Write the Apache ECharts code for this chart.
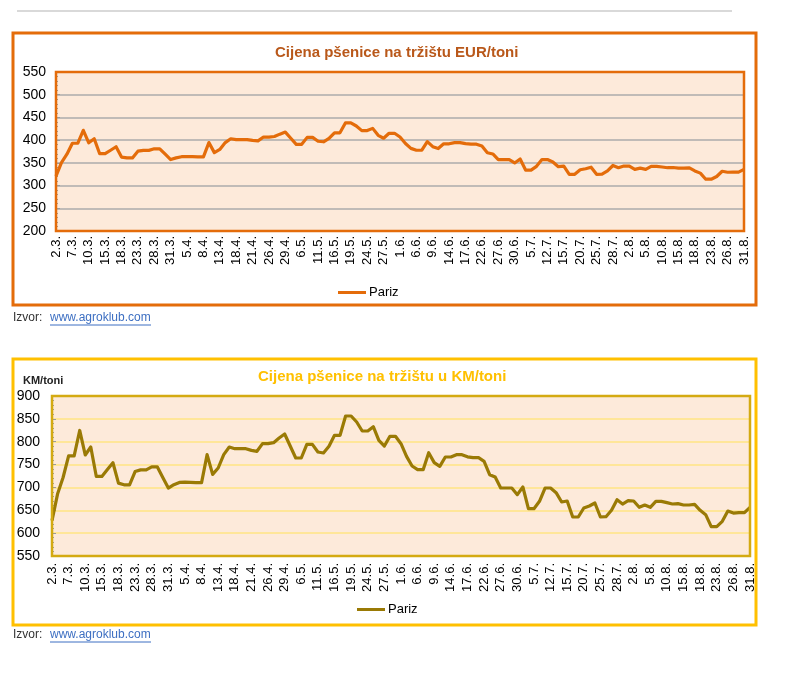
<!DOCTYPE html>
<html>
<head>
<meta charset="utf-8">
<script src="https://cdn.jsdelivr.net/npm/echarts@6/dist/echarts.min.js"></script>
<style>
html,body{margin:0;padding:0;background:#fff;}
#c1{position:absolute;left:0;top:0;width:800px;height:330px;}
#c2{position:absolute;left:0;top:330px;width:800px;height:347px;}
</style>
</head>
<body>
<div id="c1"></div>
<div id="c2"></div>
<script>
const categories = ['2.3.','3.3.','4.3.','7.3.','8.3.','9.3.','10.3.','11.3.','14.3.','15.3.','16.3.','17.3.','18.3.','21.3.','22.3.','23.3.','24.3.','25.3.','28.3.','29.3.','30.3.','31.3.','1.4.','4.4.','5.4.','6.4.','7.4.','8.4.','11.4.','12.4.','13.4.','14.4.','15.4.','18.4.','19.4.','20.4.','21.4.','22.4.','25.4.','26.4.','27.4.','28.4.','29.4.','4.5.','5.5.','6.5.','9.5.','10.5.','11.5.','12.5.','13.5.','16.5.','17.5.','18.5.','19.5.','20.5.','23.5.','24.5.','25.5.','26.5.','27.5.','30.5.','31.5.','1.6.','2.6.','3.6.','6.6.','7.6.','8.6.','9.6.','10.6.','13.6.','14.6.','15.6.','16.6.','17.6.','20.6.','21.6.','22.6.','23.6.','24.6.','27.6.','28.6.','29.6.','30.6.','1.7.','4.7.','5.7.','7.7.','11.7.','12.7.','13.7.','14.7.','15.7.','18.7.','19.7.','20.7.','21.7.','22.7.','25.7.','26.7.','27.7.','28.7.','29.7.','1.8.','2.8.','3.8.','4.8.','5.8.','8.8.','9.8.','10.8.','11.8.','12.8.','15.8.','16.8.','17.8.','18.8.','19.8.','22.8.','23.8.','24.8.','25.8.','26.8.','29.8.','30.8.','31.8.'];

const parizEUR = [320.8,350.5,369.0,393.2,393.2,421.6,394.2,403.1,370.2,370.2,377.8,385.5,362.7,360.9,360.9,375.7,377.5,377.5,380.9,380.9,369.0,357.2,361.0,363.5,363.8,363.5,363.2,363.2,394.6,372.5,379.6,394.6,403.1,401.3,401.3,401.3,399.4,398.3,406.8,406.8,408.0,413.2,417.7,404.2,390.8,390.8,406.1,406.1,397.5,396.4,403.9,416.2,416.2,437.8,437.8,431.1,421.0,421.0,425.9,410.6,404.2,415.1,415.1,406.8,392.7,381.9,377.8,377.8,396.8,385.6,381.5,392.0,392.0,394.6,394.6,392.2,391.2,391.2,387.1,372.2,369.6,357.2,357.2,357.2,349.8,358.4,334.1,334.1,342.4,357.2,357.2,352.0,341.6,342.7,324.8,324.8,334.9,337.1,340.5,324.8,325.2,332.3,344.2,339.3,343.1,342.7,335.7,338.3,335.7,342.4,342.4,340.9,339.3,339.8,338.3,338.3,339.0,332.3,327.4,314.0,314.0,320.0,331.5,329.3,329.7,329.7,335.7];

const parizKM = [627.5,685.5,721.7,769.0,769.0,824.6,771.0,788.4,724.0,724.0,739.0,754.0,709.4,705.8,705.8,734.8,738.4,738.4,745.0,745.0,721.7,698.6,706.0,711.0,711.5,711.0,710.4,710.4,771.7,728.6,742.5,771.7,788.4,784.8,784.8,784.8,781.1,779.0,795.7,795.7,797.9,808.1,816.9,790.6,764.4,764.4,794.3,794.3,777.5,775.3,790.0,814.0,814.0,856.2,856.2,843.1,823.4,823.4,832.9,803.0,790.6,811.8,811.8,795.7,768.0,746.9,738.9,738.9,776.0,754.2,746.1,766.6,766.6,771.7,771.7,767.0,765.1,765.1,757.1,727.9,722.8,698.7,698.7,698.7,684.2,700.9,653.5,653.5,669.6,698.7,698.7,688.5,668.1,670.3,635.3,635.3,655.0,659.4,665.9,635.3,636.0,650.0,673.2,663.7,671.0,670.3,656.5,661.6,656.5,669.6,669.6,666.7,663.7,664.5,661.6,661.6,663.0,649.9,640.4,614.2,614.2,625.8,648.4,644.0,644.8,644.8,656.5];

const seriesName = 'Pariz';
const title1 = 'Cijena pšenice na tržištu EUR/toni';
const title2 = 'Cijena pšenice na tržištu u KM/toni';
const unit2 = 'KM/toni';
const sourceLabel = 'Izvor:';
const sourceLink = 'www.agroklub.com';

const FF = 'Liberation Sans, Arial, Helvetica, sans-serif';

function buildOption(cfg){
  const g = cfg.grid;
  const W = 800;
  const graphic = [
    {type:'rect', z:-10, shape:{x:cfg.frame[0],y:cfg.frame[1],width:cfg.frame[2],height:cfg.frame[3]}, style:{fill:'#fff', stroke:cfg.frameColor, lineWidth:3}},
    {type:'rect', z:50, silent:true, shape:{x:g.left,y:g.top,width:W-g.left-g.right,height:cfg.h-g.top-g.bottom}, style:{fill:null, stroke:cfg.plotBorder, lineWidth:2.5}},
    {type:'text', left:13, top:cfg.srcTop, style:{text:sourceLabel, fill:'#333', font:'12px '+FF}},
    {type:'text', left:50, top:cfg.srcTop, style:{text:sourceLink, fill:'#3D6FC2', font:'12px '+FF}},
    {type:'line', shape:{x1:50,y1:cfg.srcTop+13,x2:151,y2:cfg.srcTop+13}, style:{stroke:'#3D6FC2', lineWidth:1}}
  ];
  if (cfg.extra) graphic.push.apply(graphic, cfg.extra);
  return {
    animation:false,
    textStyle:{fontFamily:FF},
    title:{text:cfg.title, left:cfg.titleLeft, top:cfg.titleTop, padding:0,
      textStyle:{fontSize:15, fontWeight:'bold', color:cfg.titleColor, fontFamily:FF}},
    graphic: graphic,
    grid:{left:g.left, right:g.right, top:g.top, bottom:g.bottom, show:true, backgroundColor:'#FDEADA', borderWidth:0},
    legend:{data:[seriesName], left:cfg.legendLeft, top:cfg.legendTop, padding:0, icon:'rect', itemWidth:28, itemHeight:3, itemGap:4,
      textStyle:{fontSize:13, color:'#000', fontFamily:FF, padding:[0,0,0,-2]}},
    xAxis:{type:'category', data:categories, boundaryGap:false,
      axisLine:{show:false}, axisTick:{show:false},
      axisLabel:{interval:2, rotate:90, fontSize:13, color:'#000', margin:cfg.xMargin, fontFamily:FF}},
    yAxis:{type:'value', min:cfg.min, max:cfg.max, interval:50,
      axisLine:{show:false},
      axisTick:{show:true, inside:true, length:4, lineStyle:{color:'#9a9a9a'}},
      minorTick:{show:true, splitNumber:5, length:2, lineStyle:{color:'#9a9a9a'}},
      splitLine:{lineStyle:{color:cfg.gridColor, width:cfg.gridWidth}},
      axisLabel:{fontSize:14, color:'#000', margin:cfg.yMargin, fontFamily:FF}},
    series:[{name:seriesName, type:'line', data:cfg.data, showSymbol:false, symbol:'none',
      lineStyle:{color:cfg.lineColor, width:3.2, join:'round'}, itemStyle:{color:cfg.lineColor}}]
  };
}

const c1 = echarts.init(document.getElementById('c1'));
c1.setOption(buildOption({
  h:330,
  frame:[13,33,743,272], frameColor:'#E46C0A',
  title:title1, titleLeft:275, titleTop:45, titleColor:'#B9581A',
  grid:{left:56, right:56, top:72, bottom:99},
  plotBorder:'#E46C0A', gridColor:'#ABABAB', gridWidth:1.5,
  min:200, max:550, xMargin:5, yMargin:10,
  legendLeft:338, legendTop:286,
  lineColor:'#E46C0A', data:parizEUR,
  srcTop:312,
  extra:[{type:'line', z:-5, shape:{x1:17,y1:11,x2:732,y2:11}, style:{stroke:'#d9d9d9', lineWidth:2}}]
}));

const c2 = echarts.init(document.getElementById('c2'));
c2.setOption(buildOption({
  h:347,
  frame:[13,29,743,266], frameColor:'#FFC000',
  title:title2, titleLeft:258, titleTop:39, titleColor:'#FFC000',
  grid:{left:52, right:50, top:66, bottom:121},
  plotBorder:'#D4AA12', gridColor:'#FFE699', gridWidth:2,
  min:550, max:900, xMargin:7, yMargin:12,
  legendLeft:357, legendTop:273,
  lineColor:'#9A7A05', data:parizKM,
  srcTop:299,
  extra:[{type:'text', left:23, top:45, style:{text:unit2, fill:'#222', font:'bold 11px '+FF}}]
}));
</script>
</body>
</html>
